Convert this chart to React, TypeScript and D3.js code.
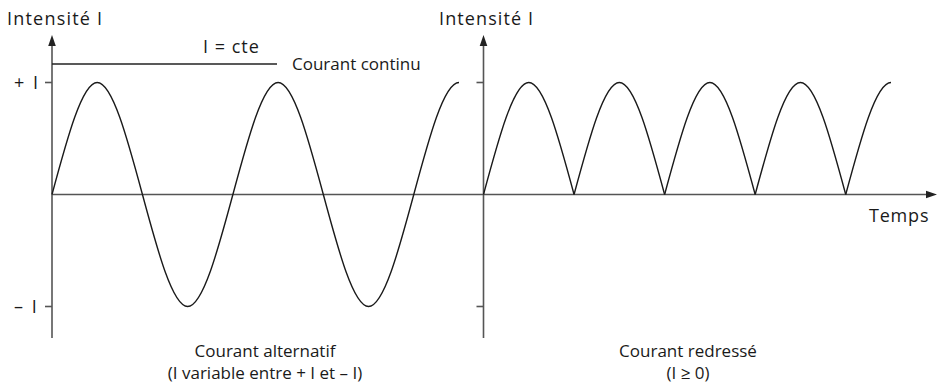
import React from "react";
import * as d3 from "d3";

// Key points of the waveforms, in quarter-period units of time
const quarterTimes = [0, 1, 2, 3, 4, 5, 6, 7, 8, 9, 10];
const alternatingValues = [0, 1, 0, -1, 0, 1, 0, -1, 0, 1, 0];
const rectifiedValues = [0, 1, 0, 1, 0, 1, 0, 1, 0, 1, 0];
const visibleEnd = 9;
const constantValue = 1.165; // "I = cte" level (above +I)
const tickValues = [1, -1];
const tickLabels = ["+ I", "– I"];

const W = 938;
const H = 384;
const FONT = "'Open Sans', sans-serif";
const AXIS = "#555";
const CURVE = "#1a1a1a";

export default function App() {
  const y = d3.scaleLinear().domain([-1, 1]).range([306.5, 82.5]);
  const xL = d3.scaleLinear().domain([0, visibleEnd]).range([52, 459]);
  const xR = d3.scaleLinear().domain([0, visibleEnd]).range([483.5, 891]);
  const y0 = y(0);

  const pts = quarterTimes.map((t, i) => ({ t, a: alternatingValues[i], r: rectifiedValues[i] }));

  const altLine = d3
    .line<{ t: number; a: number }>()
    .x((d) => xL(d.t))
    .y((d) => y(d.a))
    .curve(d3.curveNatural);

  const recLine = d3
    .line<{ t: number; r: number }>()
    .x((d) => xR(d.t))
    .y((d) => y(d.r))
    .curve(d3.curveNatural);

  const arches: (typeof pts)[] = [];
  for (let i = 0; i + 2 < pts.length; i += 2) arches.push(pts.slice(i, i + 3));

  const axisTop = 35;
  const axisBottom = 338;

  const text = (
    x: number,
    yy: number,
    s: string,
    anchor: string = "start",
    ls = 0,
    size = 17
  ) => (
    <text
      x={x}
      y={yy}
      fontFamily={FONT}
      fontSize={size}
      fill="#1a1a1a"
      textAnchor={anchor as any}
      letterSpacing={ls}
    >
      {s}
    </text>
  );

  return (
    <svg width={W} height={H} style={{ position: "absolute", left: 0, top: 0 }}>
      <defs>
        <clipPath id="clipL">
          <rect x={xL(0) - 2} y={0} width={xL(visibleEnd) - xL(0) + 2} height={H} />
        </clipPath>
        <clipPath id="clipR">
          <rect x={xR(0) - 2} y={0} width={xR(visibleEnd) - xR(0) + 2} height={H} />
        </clipPath>
      </defs>
      <rect width={W} height={H} fill="#fff" />

      {/* axes */}
      <g stroke={AXIS} strokeWidth={1.6} fill="none">
        <line x1={xL(0)} x2={xL(0)} y1={axisTop + 8} y2={axisBottom} />
        <line x1={xR(0)} x2={xR(0)} y1={axisTop + 8} y2={axisBottom} />
        <line x1={xL(0)} x2={929} y1={y0} y2={y0} />
        {tickValues.map((v) => (
          <React.Fragment key={v}>
            <line x1={xL(0) - 7} x2={xL(0)} y1={y(v)} y2={y(v)} />
            <line x1={xR(0) - 7} x2={xR(0)} y1={y(v)} y2={y(v)} />
          </React.Fragment>
        ))}
      </g>
      <g fill="#222" stroke="none">
        <path d={`M${xL(0)},${axisTop} L${xL(0) - 3.8},${axisTop + 11} L${xL(0) + 3.8},${axisTop + 11} Z`} />
        <path d={`M${xR(0)},${axisTop} L${xR(0) - 3.8},${axisTop + 11} L${xR(0) + 3.8},${axisTop + 11} Z`} />
        <path d={`M937,${y0} L926,${y0 - 3.8} L926,${y0 + 3.8} Z`} />
      </g>

      {/* constant current line */}
      <line x1={xL(0)} x2={277} y1={y(constantValue)} y2={y(constantValue)} stroke="#222" strokeWidth={1.3} />

      {/* alternating current */}
      <path d={altLine(pts) || ""} fill="none" stroke={CURVE} strokeWidth={1.4} clipPath="url(#clipL)" />

      {/* rectified current */}
      <g clipPath="url(#clipR)">
        {arches.map((a, i) => (
          <path key={i} d={recLine(a) || ""} fill="none" stroke={CURVE} strokeWidth={1.4} />
        ))}
      </g>

      {/* labels */}
      {text(7, 25, "Intensité I", "start", 1.2, 18)}
      {text(439, 25, "Intensité I", "start", 1.1, 18)}
      {text(203, 53, "I = cte", "start", 1, 18)}
      {text(292, 70, "Courant continu")}
      {tickValues.map((v, i) => (
        <React.Fragment key={v}>{text(14, y(v) + 6, tickLabels[i], "start", 2, 18)}</React.Fragment>
      ))}
      {text(869, 222, "Temps", "start", 0.8, 18)}
      {text(265, 357, "Courant alternatif", "middle")}
      {text(265, 379, "(I variable entre + I et – I)", "middle")}
      {text(688, 357, "Courant redressé", "middle")}
      {text(688, 379, "(I ≥ 0)", "middle")}
    </svg>
  );
}
